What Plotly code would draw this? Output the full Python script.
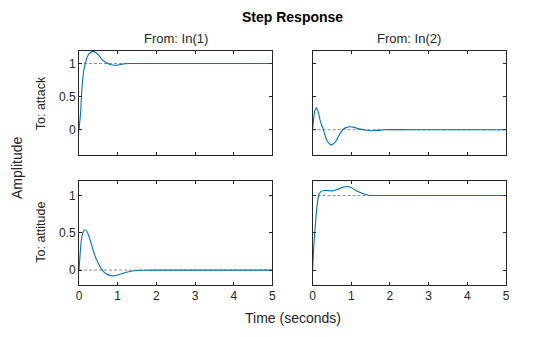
import plotly.graph_objects as go
from plotly.subplots import make_subplots

# Step response samples (time in seconds) for each input/output channel
t_attack_in1 = [0, 0.04, 0.08, 0.12, 0.16, 0.22, 0.28, 0.36, 0.45, 0.52, 0.6, 0.69, 0.8, 0.95, 1.1, 1.3, 1.6, 2.0, 5.0]
y_attack_in1 = [0, 0.25, 0.66, 0.88, 1.0, 1.11, 1.16, 1.185, 1.16, 1.12, 1.06, 1.02, 0.985, 0.975, 0.99, 1.0, 1.002, 1.0, 1.0]

t_attack_in2 = [0, 0.03, 0.06, 0.095, 0.14, 0.2, 0.28, 0.36, 0.47, 0.58, 0.68, 0.78, 0.88, 0.97, 1.08, 1.2, 1.3, 1.47, 1.65, 1.85, 2.5, 5.0]
y_attack_in2 = [0, 0.17, 0.29, 0.33, 0.28, 0.13, 0.0, -0.15, -0.23, -0.19, -0.09, 0.0, 0.035, 0.045, 0.035, 0.012, 0.0, -0.015, -0.01, 0.0, 0.0, 0.0]

t_attitude_in1 = [0, 0.03, 0.06, 0.1, 0.15, 0.2, 0.26, 0.33, 0.39, 0.46, 0.52, 0.6, 0.7, 0.85, 1.0, 1.12, 1.25, 1.38, 1.6, 2.0, 5.0]
y_attitude_in1 = [0, 0.22, 0.4, 0.5, 0.54, 0.52, 0.45, 0.33, 0.225, 0.13, 0.07, 0.0, -0.05, -0.077, -0.065, -0.045, -0.027, -0.013, -0.003, 0.0, 0.0]

t_attitude_in2 = [0, 0.04, 0.09, 0.13, 0.17, 0.22, 0.3, 0.4, 0.52, 0.6, 0.69, 0.78, 0.88, 0.98, 1.12, 1.25, 1.34, 1.47, 1.7, 5.0]
y_attitude_in2 = [0, 0.38, 0.72, 0.92, 1.02, 1.055, 1.067, 1.065, 1.062, 1.072, 1.09, 1.108, 1.12, 1.11, 1.067, 1.035, 1.018, 1.0, 1.0, 1.0]

outputs = ["attack", "attitude"]
inputs = ["In(1)", "In(2)"]
x_ticks = [0, 1, 2, 3, 4, 5]
y_ticks = [0, 0.5, 1]
row_ranges = [[-0.39, 1.19], [-0.2, 1.2]]

panels = {
    (1, 1): (t_attack_in1, y_attack_in1),
    (1, 2): (t_attack_in2, y_attack_in2),
    (2, 1): (t_attitude_in1, y_attitude_in1),
    (2, 2): (t_attitude_in2, y_attitude_in2),
}

LINE = "#0072BD"
AX = "#262626"
FONT = "Liberation Sans, Arial, sans-serif"

fig = make_subplots(rows=2, cols=2, shared_xaxes=True, shared_yaxes=True,
                    horizontal_spacing=0.094, vertical_spacing=0.107)

for (r, c), (t, y) in panels.items():
    # steady-state reference line
    fig.add_trace(go.Scatter(x=[t[0], t[-1]], y=[y[-1], y[-1]], mode="lines",
                             line=dict(color="#8c8c8c", width=1, dash="3px,2px"),
                             hoverinfo="skip", showlegend=False), row=r, col=c)
    fig.add_trace(go.Scatter(x=t, y=y, mode="lines",
                             line=dict(color=LINE, width=1.1, shape="spline", smoothing=0.8),
                             showlegend=False), row=r, col=c)

axis_style = dict(showline=True, mirror="ticks", linecolor=AX, linewidth=1,
                  ticks="inside", ticklen=3, tickcolor=AX, showgrid=False,
                  zeroline=False, tickfont=dict(family=FONT, size=12, color=AX))

for r in (1, 2):
    for c in (1, 2):
        fig.update_xaxes(range=[0, 5], tickvals=x_ticks, row=r, col=c, **axis_style)
        fig.update_yaxes(range=row_ranges[r - 1], tickvals=y_ticks, row=r, col=c, **axis_style)

annotations = [
    dict(text="<b>Step Response</b>", x=0.5, y=1, xref="paper", yref="paper",
         yanchor="bottom", yshift=24, showarrow=False, font=dict(size=14, color="#000000")),
    dict(text="Time (seconds)", x=0.5, y=0, xref="paper", yref="paper",
         yanchor="top", yshift=-23, showarrow=False, font=dict(size=14, color=AX)),
    dict(text="Amplitude", x=0, y=0.5, xref="paper", yref="paper", textangle=-90,
         xanchor="right", yanchor="middle", xshift=-52, showarrow=False,
         font=dict(size=14, color=AX)),
]
col_centres = [(fig.layout.xaxis.domain[0] + fig.layout.xaxis.domain[1]) / 2,
               (fig.layout.xaxis2.domain[0] + fig.layout.xaxis2.domain[1]) / 2]
row_centres = [(fig.layout.yaxis.domain[0] + fig.layout.yaxis.domain[1]) / 2,
               (fig.layout.yaxis3.domain[0] + fig.layout.yaxis3.domain[1]) / 2]
for c, name in enumerate(inputs):
    annotations.append(dict(text=f"From: {name}", x=col_centres[c], y=1, xref="paper", yref="paper",
                            xanchor="center", yanchor="bottom", yshift=3, showarrow=False,
                            font=dict(size=13, color=AX)))
for r, name in enumerate(outputs):
    annotations.append(dict(text=f"To: {name}", x=0, y=row_centres[r], xref="paper", yref="paper",
                            textangle=-90, xanchor="right", yanchor="middle", xshift=-29,
                            showarrow=False, font=dict(size=12.5, color=AX)))

fig.update_layout(
    width=560, height=337,
    margin=dict(l=79, r=54, t=51, b=52),
    paper_bgcolor="white", plot_bgcolor="white",
    font=dict(family=FONT, color=AX),
    annotations=annotations,
)

fig.write_html("out.html")
